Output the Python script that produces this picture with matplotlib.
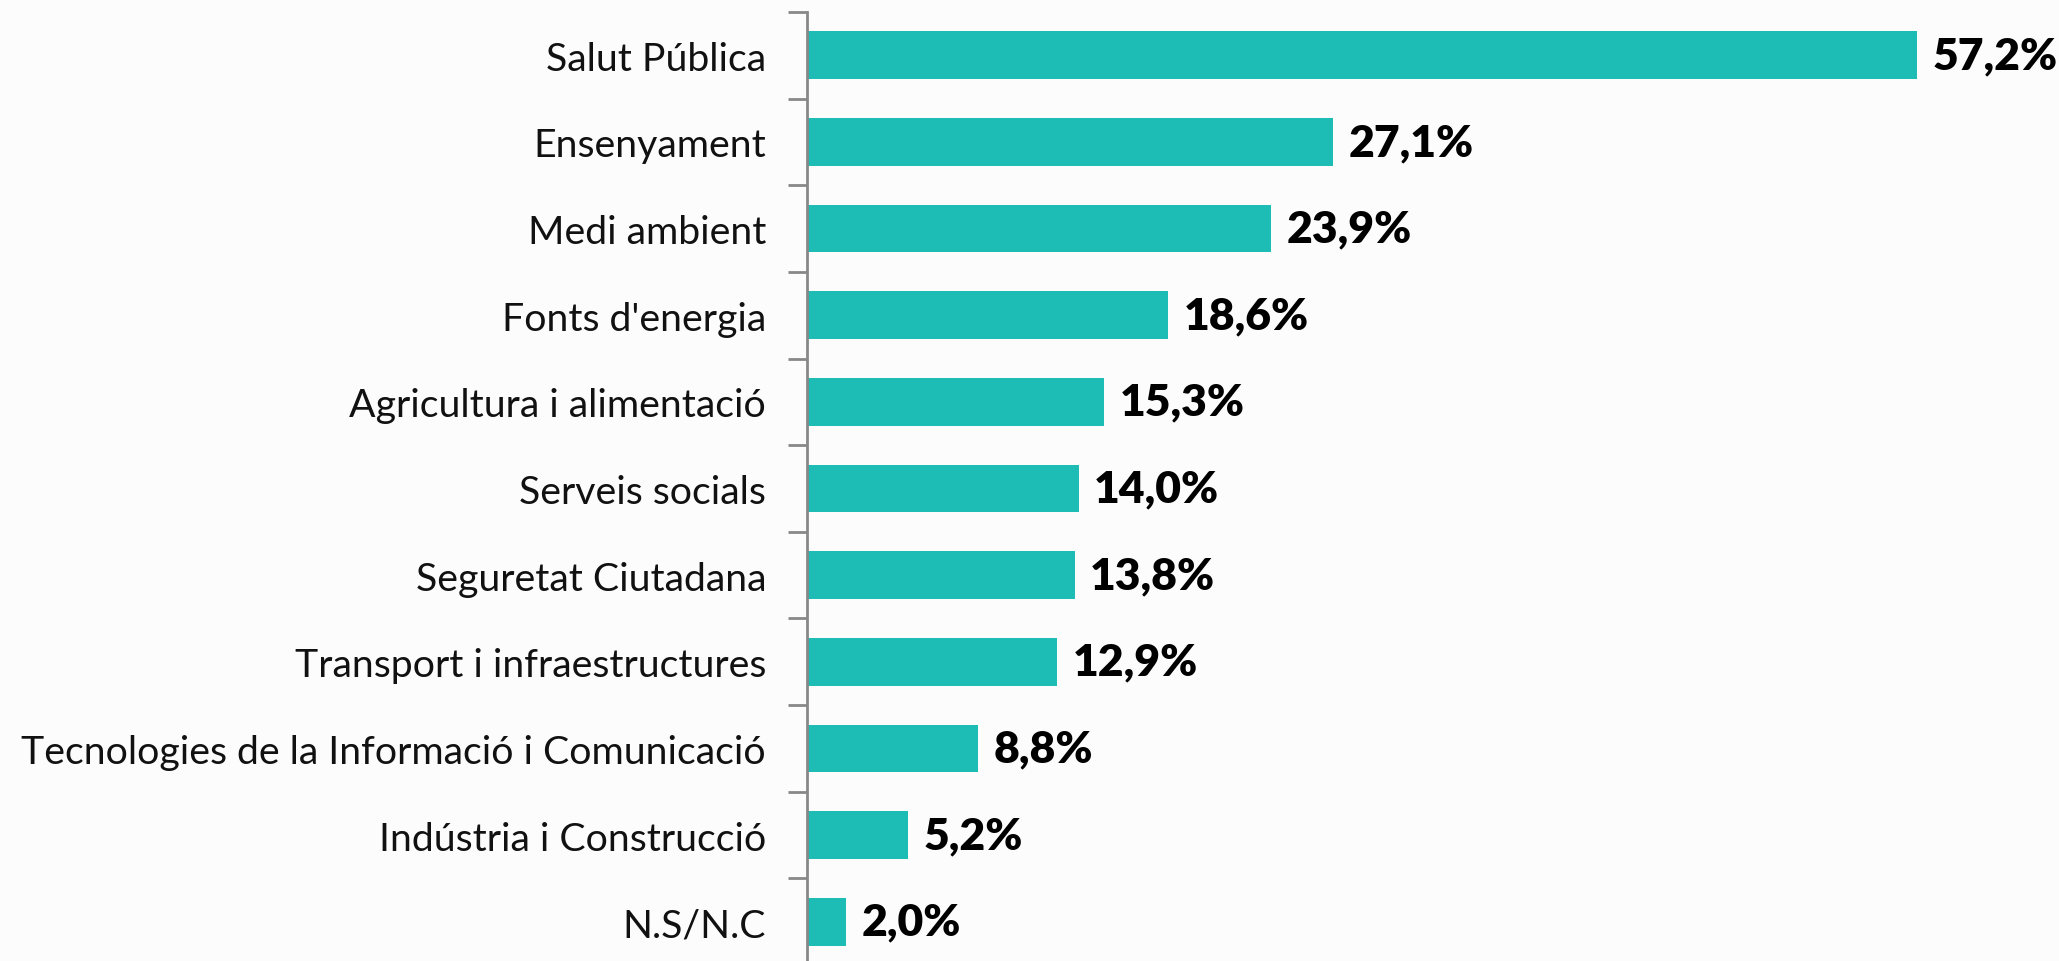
import matplotlib
matplotlib.use("Agg")
import matplotlib.pyplot as plt

categories = ["Salut Pública", "Ensenyament", "Medi ambient", "Fonts d'energia",
              "Agricultura i alimentació", "Serveis socials", "Seguretat Ciutadana",
              "Transport i infraestructures", "Tecnologies de la Informació i Comunicació",
              "Indústria i Construcció", "N.S/N.C"]
values = [57.2, 27.1, 23.9, 18.6, 15.3, 14.0, 13.8, 12.9, 8.8, 5.2, 2.0]
value_labels = [f"{v:.1f}%".replace(".", ",") for v in values]

W, H = 2059, 962
fig = plt.figure(figsize=(W / 100, H / 100), dpi=100, facecolor="#fcfcfc")
ax = fig.add_axes([807 / W, -4 / H, 1164 / W, 953 / H])
ax.set_facecolor("none")

n = len(categories)
ypos = list(range(n))
ax.barh(ypos, values, height=0.55, color="#1dbcb4", edgecolor="none")
ax.set_ylim(n - 0.5, -0.5)
ax.set_xlim(0, 60)

for y, v, lab in zip(ypos, values, value_labels):
    ax.text(v + 0.8, y, lab, va="center", ha="left", fontsize=32,
            fontweight="heavy", family="Lato", color="#000000")

# fit label font so that longest label is ~745 px wide
renderer = fig.canvas.get_renderer()
longest = max(categories, key=len)
t = fig.text(0, 0, longest, fontsize=30, family="Lato")
w = t.get_window_extent(renderer).width
t.remove()
fs = 30 * 745 / w

ax.set_yticks(ypos)
ax.set_yticklabels(categories, fontsize=fs, family="Lato", color="#111111")
ax.tick_params(axis="y", which="major", length=0, pad=29.5)
ax.set_yticks([i - 0.5 for i in range(n + 1)], minor=True)
ax.tick_params(axis="y", which="minor", length=14, width=2, color="#888888", direction="out")
ax.set_xticks([])
for s in ["top", "right", "bottom"]:
    ax.spines[s].set_visible(False)
ax.spines["left"].set_color("#888888")
ax.spines["left"].set_linewidth(2)

fig.savefig("out.png", dpi=100, facecolor=fig.get_facecolor())
